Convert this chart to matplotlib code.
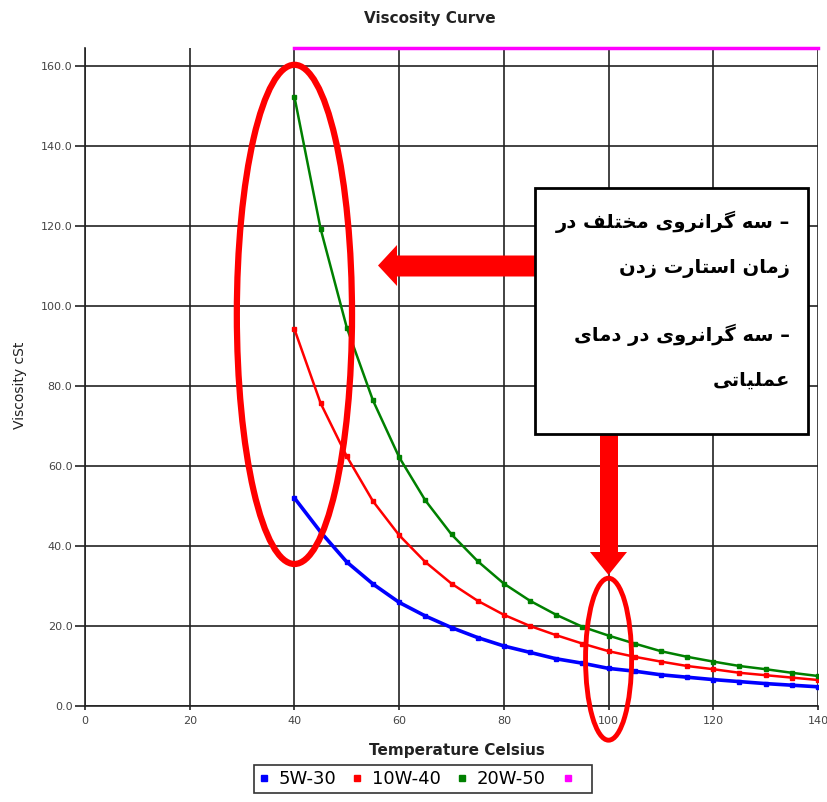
import matplotlib.pyplot as plt
from matplotlib.patches import Ellipse, Rectangle, Polygon
from matplotlib.lines import Line2D

# data
temps = [40, 45, 50, 55, 60, 65, 70, 75, 80, 85, 90, 95, 100, 105, 110, 115, 120, 125, 130, 135, 140]
visc_5w30 = [52.0, 43.5, 36.0, 30.5, 25.9, 22.5, 19.6, 17.1, 15.0, 13.4, 11.8, 10.7, 9.4, 8.7, 7.8, 7.2, 6.6, 6.1, 5.6, 5.2, 4.8]
visc_10w40 = [94.2, 75.7, 62.4, 51.2, 42.7, 36.0, 30.6, 26.3, 22.8, 20.0, 17.7, 15.6, 13.7, 12.3, 11.1, 10.0, 9.2, 8.3, 7.7, 7.1, 6.5]
visc_20w50 = [152.3, 119.3, 94.6, 76.4, 62.2, 51.4, 42.9, 36.2, 30.6, 26.3, 22.8, 19.8, 17.6, 15.6, 13.7, 12.3, 11.1, 10.0, 9.2, 8.3, 7.5]
visc_top = [164.5] * len(temps)
series_labels = ["5W-30", "10W-40", "20W-50", " "]
series_colors = ["#0000ff", "#ff0000", "#008000", "#ff00ff"]

x_ticks = [0, 20, 40, 60, 80, 100, 120, 140]
y_ticks = [0, 20, 40, 60, 80, 100, 120, 140, 160]

note_lines = ["– سه گرانروی مختلف در", "زمان استارت زدن", "– سه گرانروی در دمای", "عملیاتی"]

# simple arabic/persian shaping (matplotlib has no complex text layout)
FORMS = {
    'ا': ('\uFE8D', '\uFE8E', None, None),
    'ر': ('\uFEAD', '\uFEAE', None, None),
    'ز': ('\uFEAF', '\uFEB0', None, None),
    'د': ('\uFEA9', '\uFEAA', None, None),
    'و': ('\uFEED', '\uFEEE', None, None),
    'س': ('\uFEB1', '\uFEB2', '\uFEB3', '\uFEB4'),
    'ه': ('\uFEE9', '\uFEEA', '\uFEEB', '\uFEEC'),
    'ن': ('\uFEE5', '\uFEE6', '\uFEE7', '\uFEE8'),
    'م': ('\uFEE1', '\uFEE2', '\uFEE3', '\uFEE4'),
    'خ': ('\uFEA5', '\uFEA6', '\uFEA7', '\uFEA8'),
    'ت': ('\uFE95', '\uFE96', '\uFE97', '\uFE98'),
    'ل': ('\uFEDD', '\uFEDE', '\uFEDF', '\uFEE0'),
    'ف': ('\uFED1', '\uFED2', '\uFED3', '\uFED4'),
    'ع': ('\uFEC9', '\uFECA', '\uFECB', '\uFECC'),
    'گ': ('\uFB92', '\uFB93', '\uFB94', '\uFB95'),
    'ی': ('\uFBFC', '\uFBFD', '\uFBFE', '\uFBFF'),
}


def shape(text):
    out = []
    for i, ch in enumerate(text):
        if ch not in FORMS:
            out.append(ch)
            continue
        prev = text[i - 1] if i > 0 else ''
        nxt = text[i + 1] if i + 1 < len(text) else ''
        jp = prev in FORMS and FORMS[prev][2] is not None
        jn = nxt in FORMS and FORMS[ch][2] is not None
        iso, fin, ini, med = FORMS[ch]
        if jp and jn:
            out.append(med)
        elif jp:
            out.append(fin)
        elif jn:
            out.append(ini)
        else:
            out.append(iso)
    return ''.join(reversed(out))


W, H = 827, 802


def px(x, y):
    return (x / W, 1 - y / H)


fig = plt.figure(figsize=(W / 100, H / 100), dpi=100)
ax = fig.add_axes([85 / W, 1 - 706 / H, (818 - 85) / W, (706 - 48) / H])

for vals, col, lw in zip([visc_5w30, visc_10w40, visc_20w50], series_colors[:3], [2.6, 1.8, 1.8]):
    ax.plot(temps, vals, color=col, lw=lw, marker='s', ms=3.5, zorder=3)
ax.plot(temps, visc_top, color=series_colors[3], lw=2.5, clip_on=False, zorder=3)

ax.set_xlim(0, 140)
ax.set_ylim(0, 164.5)
ax.set_xticks(x_ticks)
ax.set_yticks(y_ticks)
ax.set_yticklabels([f"{v:.1f}" for v in y_ticks])
ax.grid(True, color="#222222", lw=1.2)
ax.set_axisbelow(True)
for s in ["top", "right"]:
    ax.spines[s].set_visible(False)
for s in ["left", "bottom"]:
    ax.spines[s].set_color("#222222")
    ax.spines[s].set_linewidth(1.2)
ax.tick_params(axis='y', length=7, width=1.2, color="#222222", labelsize=8, labelcolor="#444444", pad=2)
ax.tick_params(axis='x', length=3, width=1.2, color="#222222", labelsize=8, labelcolor="#444444", pad=4)

fig.text(430 / W, 1 - 18 / H, "Viscosity Curve", ha='center', va='center', fontsize=11, fontweight='bold', color="#222222")
fig.text(457 / W, 1 - 750 / H, "Temperature Celsius", ha='center', va='center', fontsize=11, fontweight='bold', color="#222222")
fig.text(20 / W, 1 - 385 / H, "Viscosity cSt", ha='center', va='center', rotation=90, fontsize=10, color="#222222")

handles = [Line2D([], [], ls='none', marker='s', ms=4, color=c) for c in series_colors]
leg = fig.legend(handles, series_labels, loc='center', bbox_to_anchor=px(423, 779), ncol=4,
                 fontsize=13, handlelength=0.6, handletextpad=0.5, columnspacing=0.9,
                 fancybox=False, framealpha=1, edgecolor="#333333", borderpad=0.25)
leg.get_frame().set_linewidth(1.2)

# annotations
ax.add_patch(Ellipse((40, 97.9), 22, 124.8, fill=False, ec="#ff0000", lw=4.5, zorder=5, clip_on=False))
ax.add_patch(Ellipse((100, 11.7), 8.8, 40.5, fill=False, ec="#ff0000", lw=3.5, zorder=5, clip_on=False))

left_arrow = [px(535, 255.5), px(397, 255.5), px(397, 245), px(378, 265.5), px(397, 286), px(397, 276.5), px(535, 276.5)]
down_arrow = [px(600, 434), px(600, 552), px(590, 552), px(608.5, 575), px(627, 552), px(618, 552), px(618, 434)]
for pts in [left_arrow, down_arrow]:
    fig.patches.append(Polygon(pts, closed=True, fc="#ff0000", ec='none', transform=fig.transFigure, zorder=6))

x0, y0 = px(535, 434)
x1, y1 = px(808, 188)
fig.patches.append(Rectangle((x0, y0), x1 - x0, y1 - y0, fc='white', ec='black', lw=2,
                             transform=fig.transFigure, zorder=7))
for line, ypix in zip(note_lines, [222, 268, 335, 380]):
    fig.text(790 / W, 1 - ypix / H, shape(line), ha='right', va='center', fontsize=14,
             fontweight='bold', family=['DejaVu Sans'], zorder=8)

fig.savefig("out.png", dpi=100)
